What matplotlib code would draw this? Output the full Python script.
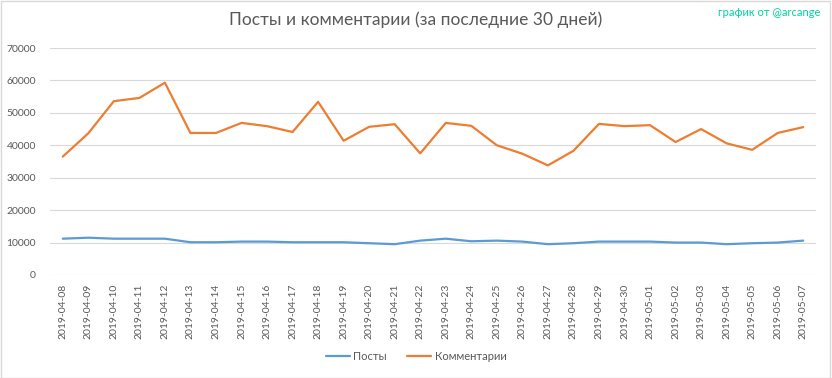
import matplotlib
matplotlib.use("Agg")
import matplotlib.pyplot as plt
from matplotlib.patches import Rectangle

plt.rcParams['font.family'] = ['Lato', 'DejaVu Sans']

dates = ["2019-04-08", "2019-04-09", "2019-04-10", "2019-04-11", "2019-04-12", "2019-04-13",
         "2019-04-14", "2019-04-15", "2019-04-16", "2019-04-17", "2019-04-18", "2019-04-19",
         "2019-04-20", "2019-04-21", "2019-04-22", "2019-04-23", "2019-04-24", "2019-04-25",
         "2019-04-26", "2019-04-27", "2019-04-28", "2019-04-29", "2019-04-30", "2019-05-01",
         "2019-05-02", "2019-05-03", "2019-05-04", "2019-05-05", "2019-05-06", "2019-05-07"]
posts = [11200, 11500, 11200, 11200, 11200, 10100, 10100, 10300, 10300, 10100, 10100, 10100,
         9800, 9500, 10600, 11200, 10400, 10600, 10300, 9500, 9800, 10300, 10300, 10300,
         10000, 10000, 9500, 9800, 10000, 10600]
comments = [36500, 43700, 53600, 54600, 59300, 43800, 43800, 46900, 45900, 44100, 53400, 41400,
            45700, 46500, 37500, 46900, 46000, 40000, 37400, 33800, 38300, 46600, 45900, 46200,
            41000, 45000, 40600, 38600, 43800, 45600]
yticks = [0, 10000, 20000, 30000, 40000, 50000, 60000, 70000]

fig = plt.figure(figsize=(8.32, 3.78), dpi=100)
fig.patches.append(Rectangle((0.001, 0.001), 0.997, 0.996, transform=fig.transFigure,
                             fill=False, edgecolor='#D9D9D9', linewidth=1.0))
ax = fig.add_axes([50/832, 1 - 275/378, 766/832, 227/378])

x = list(range(len(dates)))
ax.plot(x, posts, color='#5B9BD5', linewidth=1.6, label='Посты', solid_capstyle='round')
ax.plot(x, comments, color='#ED7D31', linewidth=1.6, label='Комментарии', solid_capstyle='round')

ax.set_xlim(-0.5, len(dates) - 0.5)
ax.set_ylim(0, 70000)
ax.set_yticks(yticks)
ax.set_yticklabels([str(v) for v in yticks])
ax.set_xticks(x)
ax.set_xticklabels(dates, rotation=90)
ax.tick_params(axis='both', length=0, labelsize=7.5, colors='#595959')
ax.tick_params(axis='y', pad=10)
ax.tick_params(axis='x', pad=6)
ax.grid(axis='y', color='#D9D9D9', linewidth=0.8)
ax.set_axisbelow(True)
for s in ax.spines.values():
    s.set_visible(False)

fig.text(0.5, 1 - 20/378, 'Посты и комментарии (за последние 30 дней)', ha='center', va='center',
         fontsize=12.5, color='#595959', fontweight='normal')
fig.text(820/832, 1 - 13/378, 'график от @arcange', ha='right', va='center',
         fontsize=8, color='#00D2A0')

fig.legend(loc='center', bbox_to_anchor=(0.5, 1 - 356/378), ncol=2, frameon=False,
           fontsize=8, labelcolor='#595959', handlelength=2.2, handletextpad=0.3, columnspacing=1.8)

fig.savefig('out.png', dpi=100, facecolor='white')
